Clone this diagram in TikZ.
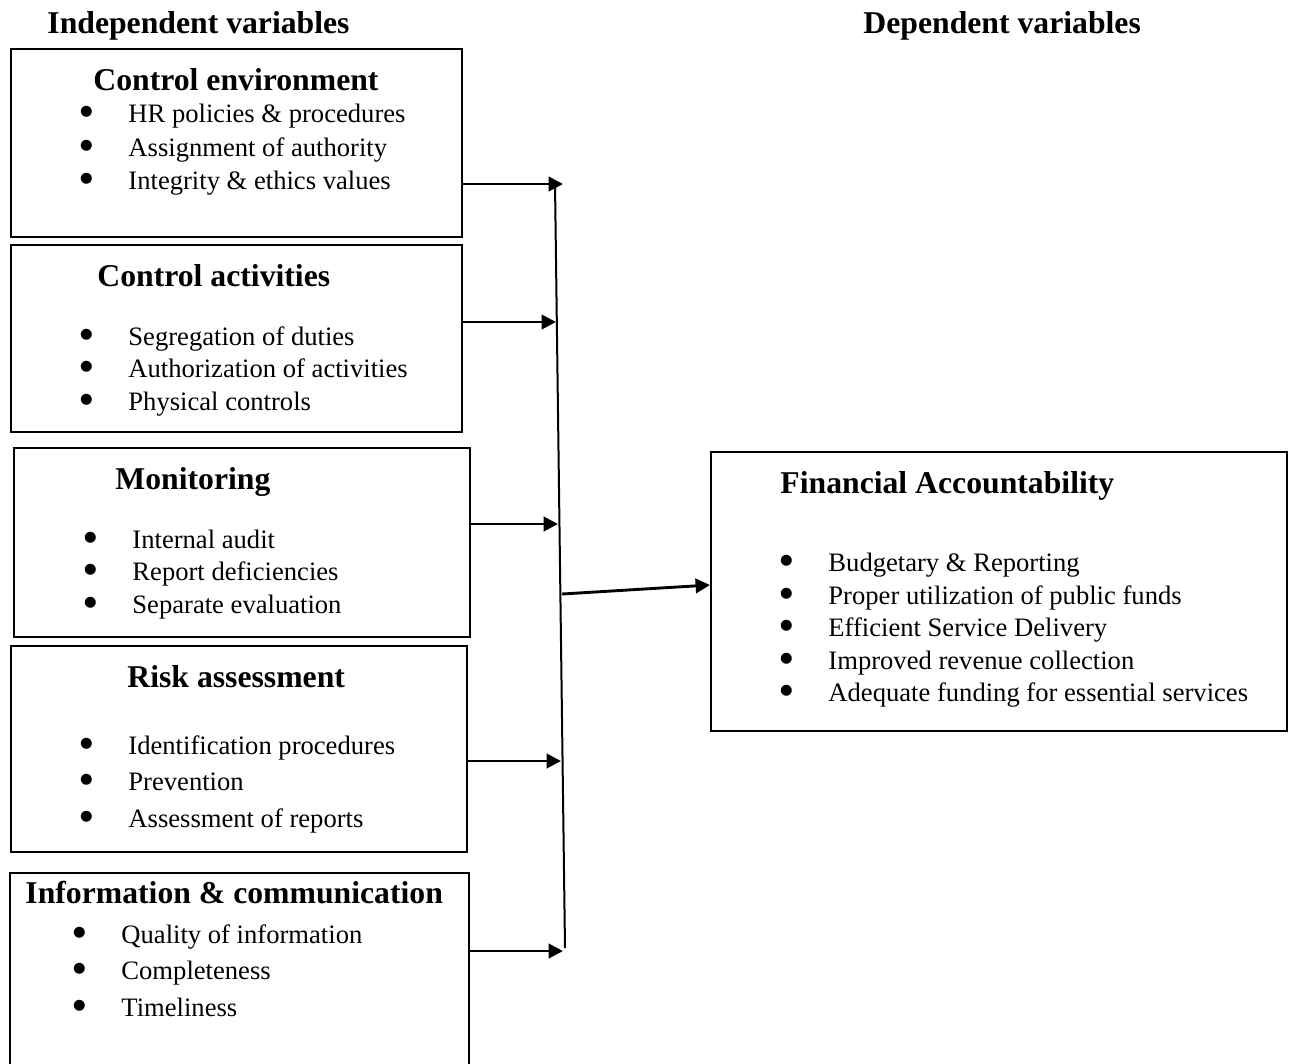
\documentclass[tikz,border=0pt]{standalone}
\usepackage{fontspec}
\setmainfont{Liberation Serif}
\newfontfamily\symfont{DejaVu Sans}
\usetikzlibrary{arrows.meta, fit}

\newcommand{\bul}{\llap{\raisebox{3pt}{\makebox[0pt]{\fontsize{6.5}{6.5}\selectfont\symfont ●}}\hspace{19pt}}}

\begin{document}
\begin{tikzpicture}[
    x=0.451pt, y=-0.451pt,
    box/.style={draw, line width=0.9pt, inner sep=0pt},
    title/.style={font=\fontsize{14.3}{17}\selectfont\bfseries, anchor=base west, inner sep=0pt},
    item/.style={font=\fontsize{12}{14}\selectfont, anchor=base west, inner sep=0pt},
    arrow/.style={-{Triangle[length=6.5pt, width=6.5pt]}, line width=1.3pt}
]
\useasboundingbox (0,0) rectangle (1294,1063);

% column headings
\node[title] (indep) at (47,33) {Independent variables};
\node[title] (dep) at (863,33) {Dependent variables};

% independent variables
\node[box, fit={(11,49) (462,237)}] (env) {};
\node[title] (envT) at (93,90) {Control environment};
\node[item] (env1) at (128,122) {\bul HR policies \& procedures};
\node[item] (env2) at (128,156) {\bul Assignment of authority};
\node[item] (env3) at (128,189) {\bul Integrity \& ethics values};

\node[box, fit={(11,245) (462,432)}] (act) {};
\node[title] (actT) at (97,286) {Control activities};
\node[item] (act1) at (128,345) {\bul Segregation of duties};
\node[item] (act2) at (128,377) {\bul Authorization of activities};
\node[item] (act3) at (128,410) {\bul Physical controls};

\node[box, fit={(14,448) (470,637)}] (mon) {};
\node[title] (monT) at (115,489) {Monitoring};
\node[item] (mon1) at (132,548) {\bul Internal audit};
\node[item] (mon2) at (132,580) {\bul Report deficiencies};
\node[item] (mon3) at (132,613) {\bul Separate evaluation};

\node[box, fit={(11,646) (467,852)}] (risk) {};
\node[title] (riskT) at (127,687) {Risk assessment};
\node[item] (risk1) at (128,754) {\bul Identification procedures};
\node[item] (risk2) at (128,790) {\bul Prevention};
\node[item] (risk3) at (128,827) {\bul Assessment of reports};

\node[box, fit={(10,873) (469,1070)}] (info) {};
\node[title] (infoT) at (25,903) {Information \& communication};
\node[item] (info1) at (121,943) {\bul Quality of information};
\node[item] (info2) at (121,979) {\bul Completeness};
\node[item] (info3) at (121,1016) {\bul Timeliness};

% dependent variable
\node[box, fit={(711,452) (1287,731)}] (fin) {};
\node[title] (finT) at (780,493) {Financial Accountability};
\node[item] (fin1) at (828,571) {\bul Budgetary \& Reporting};
\node[item] (fin2) at (828,604) {\bul Proper utilization of public funds};
\node[item] (fin3) at (828,636) {\bul Efficient Service Delivery};
\node[item] (fin4) at (828,669) {\bul Improved revenue collection};
\node[item] (fin5) at (828,701) {\bul Adequate funding for essential services};

% collecting line
\coordinate (top) at (555,183);
\coordinate (bot) at (565,948);
\coordinate (t1) at (563,184);
\coordinate (t2) at (556,322);
\coordinate (t3) at (558,524);
\coordinate (t4) at (561,761);
\coordinate (t5) at (563,951);
\coordinate (mid) at (562,594);

\draw[line width=0.9pt] (top) -- (bot);
\draw[arrow] (env.east |- t1) -- (t1);
\draw[arrow] (act.east |- t2) -- (t2);
\draw[arrow] (mon.east |- t3) -- (t3);
\draw[arrow] (risk.east |- t4) -- (t4);
\draw[arrow] (info.east |- t5) -- (t5);
\draw[arrow] (mid) -- (fin.west |- 0,585);
\end{tikzpicture}
\end{document}
